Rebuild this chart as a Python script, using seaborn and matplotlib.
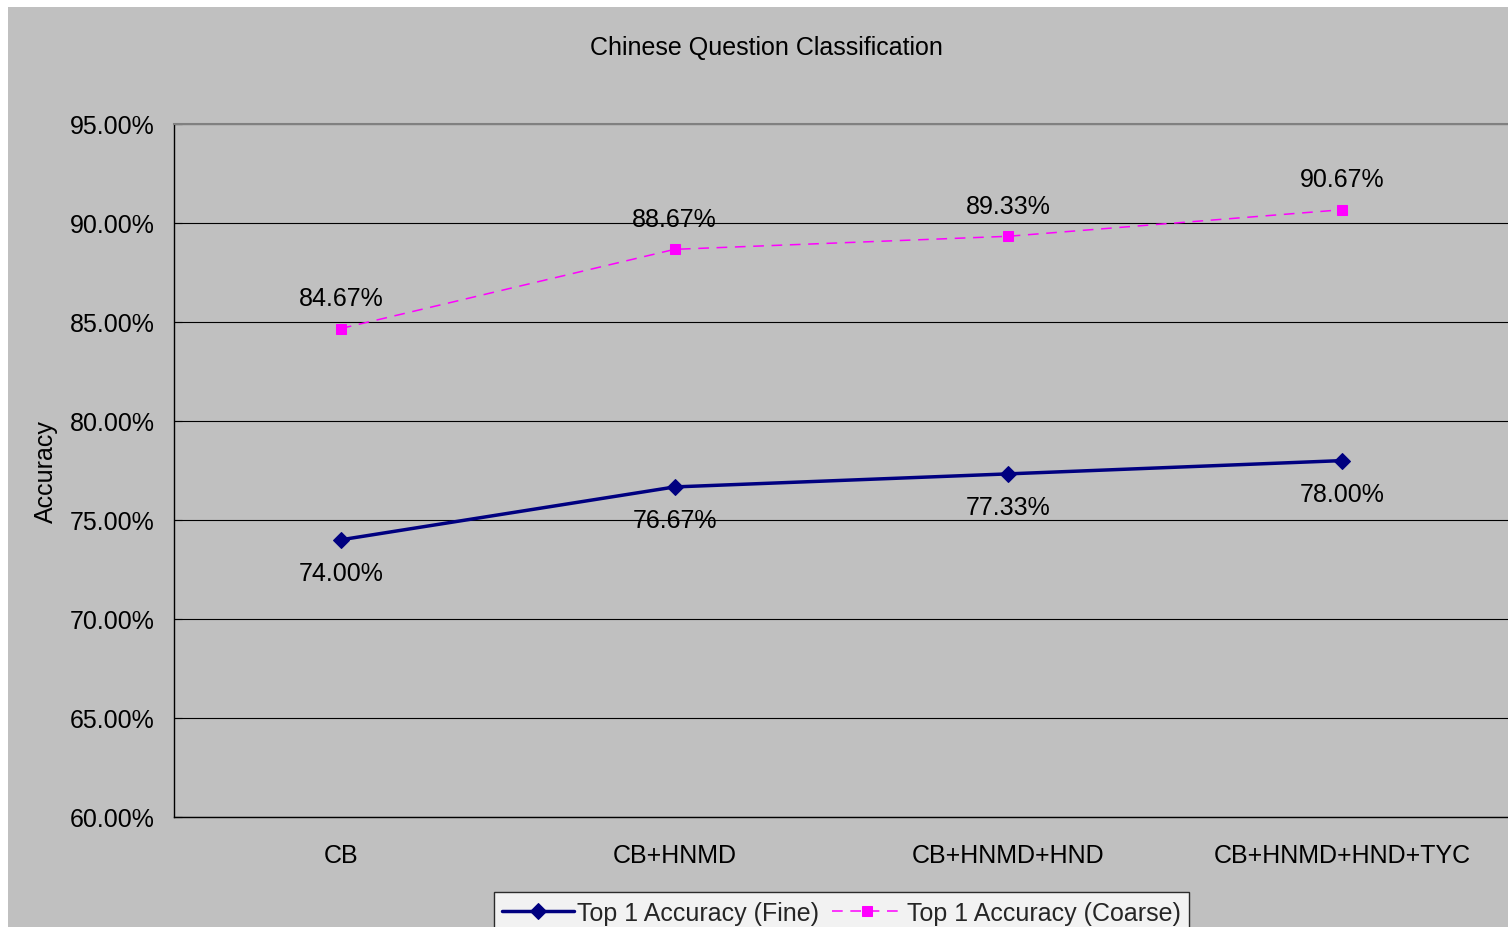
import matplotlib
matplotlib.use("Agg")
import matplotlib.pyplot as plt
import seaborn as sns
import pandas as pd
from matplotlib.patches import Rectangle
from matplotlib.ticker import FixedLocator, PercentFormatter

categories = ["CB", "CB+HNMD", "CB+HNMD+HND", "CB+HNMD+HND+TYC"]
fine_values = [74.00, 76.67, 77.33, 78.00]
coarse_values = [84.67, 88.67, 89.33, 90.67]
fine_name = "Top 1 Accuracy (Fine)"
coarse_name = "Top 1 Accuracy (Coarse)"
y_ticks = [60, 65, 70, 75, 80, 85, 90, 95]

sns.set_theme(style="white")
plt.rcParams["font.family"] = ["Liberation Sans", "DejaVu Sans"]

W, H = 1508, 928
fig = plt.figure(figsize=(W / 100, H / 100), dpi=100)
fig.patch.set_facecolor("white")
fig.patches.append(Rectangle((8 / W, 0), 1, 1 - 8 / H, transform=fig.transFigure,
                             facecolor="#C0C0C0", edgecolor="none", zorder=-10))

ax = fig.add_axes([174 / W, 1 - 818 / H, (1509 - 174) / W, (818 - 125) / H])
ax.set_facecolor("#C0C0C0")

df_fine = pd.DataFrame({"cat": categories, "val": fine_values})
df_coarse = pd.DataFrame({"cat": categories, "val": coarse_values})

sns.lineplot(data=df_fine, x="cat", y="val", ax=ax, color="#000080", linewidth=2.5,
             marker="D", markersize=8, markeredgecolor="#000080", label=fine_name,
             zorder=5)
sns.lineplot(data=df_coarse, x="cat", y="val", ax=ax, color="#FF00FF", linewidth=1.1,
             marker="s", markersize=7.5, markeredgecolor="#FF00FF", label=coarse_name,
             zorder=5)
ax.lines[1].set_dashes([7, 5])

for i, v in enumerate(fine_values):
    ax.annotate(f"{v:.2f}%", (i, v), xytext=(0, -24), textcoords="offset points",
                ha="center", va="center", fontsize=18, color="black")
for i, v in enumerate(coarse_values):
    ax.annotate(f"{v:.2f}%", (i, v), xytext=(0, 22), textcoords="offset points",
                ha="center", va="center", fontsize=18, color="black")

ax.set_xlim(-0.5, 3.5)
ax.set_ylim(60, 95)
ax.set_yticks(y_ticks)
ax.yaxis.set_major_formatter(PercentFormatter(decimals=2))
ax.grid(axis="y", color="black", linewidth=0.8)
ax.set_axisbelow(True)

ax.tick_params(axis="x", which="major", length=0, pad=19, labelsize=18, colors="black")
ax.xaxis.set_minor_locator(FixedLocator([0.5, 1.5, 2.5]))
ax.tick_params(axis="x", which="minor", direction="in", length=6, width=0.8, color="black")
ax.tick_params(axis="y", which="major", direction="in", length=6, width=0.8,
               pad=14, labelsize=18, colors="black", left=True)

ax.set_xlabel("")
ax.set_ylabel("Accuracy", fontsize=18, color="black", labelpad=8)

for side in ["left", "bottom"]:
    ax.spines[side].set_color("black")
    ax.spines[side].set_linewidth(1.0)
ax.spines["top"].set_color("#808080")
ax.spines["top"].set_linewidth(1.5)
ax.spines["top"].set_zorder(3)
ax.spines["right"].set_visible(False)

fig.text((590 + 943) / 2 / W, 1 - 48 / H, "Chinese Question Classification",
         ha="center", va="center", fontsize=18, color="black")

leg = ax.legend(loc="upper center", bbox_to_anchor=(841.5 / W, 1 - 893 / H),
                bbox_transform=fig.transFigure, ncol=2, frameon=True, fancybox=False,
                fontsize=18, handlelength=2.85, handletextpad=0.15, columnspacing=0.5,
                borderpad=0.35, borderaxespad=0)
leg.get_frame().set_edgecolor("black")
leg.get_frame().set_facecolor("white")
leg.get_frame().set_linewidth(1.0)

fig.savefig("out.png", dpi=100, facecolor=fig.get_facecolor())
